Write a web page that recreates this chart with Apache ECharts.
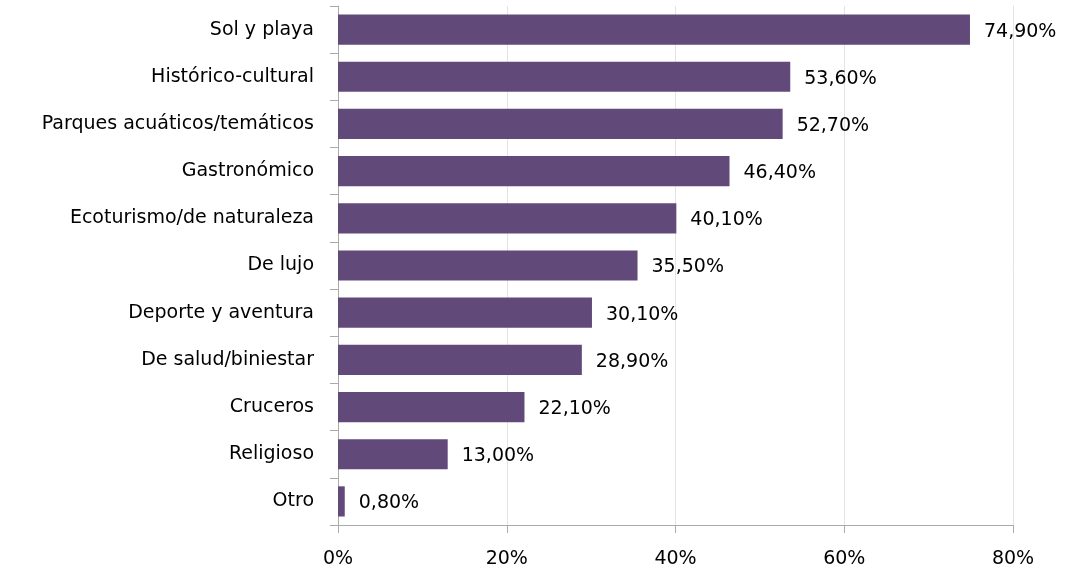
<!DOCTYPE html>
<html>
<head>
<meta charset="utf-8">
<style>
html, body { margin: 0; padding: 0; background: #fff; }
#main { width: 1071px; height: 572px; }
</style>
<script src="https://cdn.jsdelivr.net/npm/echarts@6/dist/echarts.min.js"></script>
</head>
<body>
<div id="main"></div>
<script>
// categories top to bottom
var categories = ['Sol y playa', 'Histórico-cultural', 'Parques acuáticos/temáticos', 'Gastronómico',
  'Ecoturismo/de naturaleza', 'De lujo', 'Deporte y aventura', 'De salud/biniestar',
  'Cruceros', 'Religioso', 'Otro'];
var values = [74.9, 53.6, 52.7, 46.4, 40.1, 35.5, 30.1, 28.9, 22.1, 13.0, 0.8];
var xTicks = [0, 20, 40, 60, 80];

var font = 'DejaVu Sans';
var myChart = echarts.init(document.getElementById('main'));
myChart.setOption({
  animation: false,
  grid: { left: 338, right: 58, top: 6, bottom: 47 },
  xAxis: {
    type: 'value', min: 0, max: 80, interval: 20,
    axisLine: { show: true, lineStyle: { color: '#aaaaaa' } },
    axisTick: { show: true, length: 8, lineStyle: { color: '#aaaaaa' } },
    splitLine: { lineStyle: { color: '#e3e3e3' } },
    axisLabel: {
      margin: 25, color: '#000', fontSize: 19, fontFamily: font,
      formatter: function (v) { return xTicks.indexOf(v) >= 0 ? v + '%' : ''; }
    }
  },
  yAxis: {
    type: 'category', inverse: true, data: categories,
    axisLine: { lineStyle: { color: '#aaaaaa' } },
    axisTick: { show: true, length: 8, lineStyle: { color: '#aaaaaa' } },
    axisLabel: { margin: 24, color: '#000', fontSize: 19, fontFamily: font }
  },
  series: [{
    type: 'bar', data: values, barCategoryGap: '36%',
    itemStyle: { color: '#614a7a' },
    label: {
      show: true, position: 'right', distance: 14, offset: [0, 2], color: '#000', fontSize: 19, fontFamily: font,
      formatter: function (p) { return p.value.toFixed(2).replace('.', ',') + '%'; }
    }
  }]
});
</script>
</body>
</html>
